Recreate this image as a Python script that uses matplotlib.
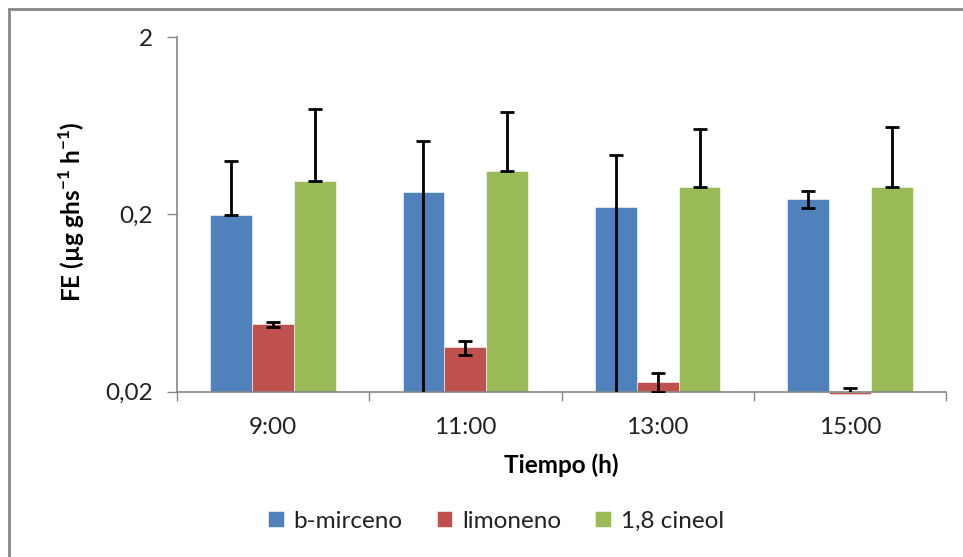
import numpy as np
import matplotlib.pyplot as plt
from matplotlib.patches import Rectangle, Patch

plt.rcParams['font.family'] = ['Lato', 'DejaVu Sans']
plt.rcParams['mathtext.fontset'] = 'custom'
plt.rcParams['mathtext.rm'] = 'Lato'
plt.rcParams['mathtext.bf'] = 'Lato:bold'

# emission factor per hour, with symmetric standard errors
horas = ['9:00', '11:00', '13:00', '15:00']
series = ['b-mirceno', 'limoneno', '1,8 cineol']
mirceno = [0.198, 0.268, 0.219, 0.243]
mirceno_err = [0.203, 0.25, 0.211, 0.026]
limoneno = [0.048, 0.0355, 0.0227, 0.0193]
limoneno_err = [0.0016, 0.0032, 0.0028, 0.0017]
cineol = [0.307, 0.351, 0.286, 0.286]
cineol_err = [0.473, 0.403, 0.322, 0.333]

colors = ['#4F81BD', '#C0504D', '#9BBB59']
base = 0.02
bar_w = 0.218
fs = 17.5

fig = plt.figure(figsize=(9.63, 5.57), dpi=100)
ax = fig.add_axes([177 / 963, 1 - 391.5 / 557, (946 - 177) / 963, (391.5 - 37) / 557])

# outer chart border
fig.patches.append(Rectangle((9 / 963, -0.1), 1.1, 1 - 9 / 557 + 0.1, transform=fig.transFigure,
                             fill=False, edgecolor='#868686', linewidth=2))

ax.set_yscale('log')
x = np.arange(len(horas)) + 0.5
data = [(mirceno, mirceno_err), (limoneno, limoneno_err), (cineol, cineol_err)]
for i, (vals, errs) in enumerate(data):
    vals = np.array(vals)
    errs = np.array(errs)
    pos = x + (i - 1) * bar_w
    # bars grow from the axis minimum, downwards if the value is below it
    ax.bar(pos, vals - base, bottom=base, width=bar_w, color=colors[i],
           edgecolor='white', linewidth=0.4, clip_on=False, zorder=2)
    # on a log axis the minus bar is dropped when it would go below zero
    lower = np.where(vals - errs > 0, errs, 0)
    ax.errorbar(pos, vals, yerr=[lower, errs], fmt='none', ecolor='black',
                elinewidth=2, capsize=5, capthick=2, zorder=3)

ax.set_xlim(0, len(horas))
ax.set_ylim(0.02, 2)
ax.set_yticks([0.02, 0.2, 2])
ax.set_yticklabels(['0,02', '0,2', '2'])
ax.yaxis.set_minor_locator(plt.NullLocator())

ax.set_xticks(np.arange(len(horas) + 1))
ax.set_xticklabels([])
ax.set_xticks(x, minor=True)
ax.set_xticklabels(horas, minor=True)

for s in ['top', 'right']:
    ax.spines[s].set_visible(False)
for s in ['left', 'bottom']:
    ax.spines[s].set_color('#868686')
    ax.spines[s].set_linewidth(1.2)

ax.tick_params(axis='y', which='major', direction='out', length=7.5, width=1,
               color='#868686', pad=10, labelsize=fs, labelcolor='#222222')
ax.tick_params(axis='x', which='major', direction='out', length=6.5, width=1,
               color='#868686')
ax.tick_params(axis='x', which='minor', length=0, pad=18, labelsize=fs,
               labelcolor='#222222')

ax.set_xlabel('Tiempo (h)', fontsize=fs, fontweight='bold', labelpad=11.5)
ax.set_ylabel(r'FE (µg ghs$^{\mathbf{-1}}$ h$^{\mathbf{-1}}$)', fontsize=fs,
              fontweight='bold', va='center')
ax.yaxis.set_label_coords(72 / 963, 1 - 212 / 557, transform=fig.transFigure)

handles = [Patch(facecolor=c, edgecolor='white', linewidth=0.4) for c in colors]
fig.legend(handles, series, loc='center', bbox_to_anchor=(496 / 963, 1 - 521 / 557),
           ncol=3, frameon=False, fontsize=fs, handlelength=0.65, handleheight=0.65,
           handletextpad=0.4, columnspacing=1.4, labelcolor='#222222')

fig.savefig('out.png', dpi=100)
